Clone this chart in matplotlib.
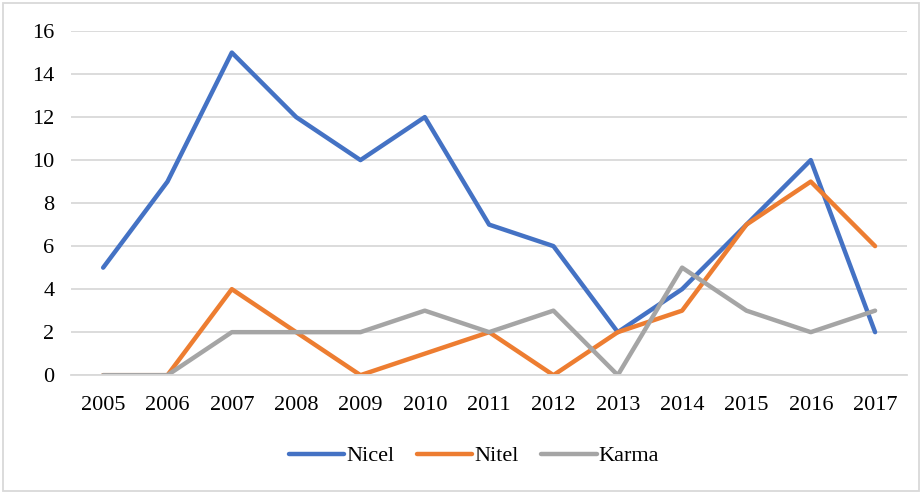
import matplotlib
matplotlib.use("Agg")
import matplotlib.pyplot as plt
from matplotlib.patches import Rectangle

# ---------- DATA ----------
years = ["2005", "2006", "2007", "2008", "2009", "2010", "2011",
         "2012", "2013", "2014", "2015", "2016", "2017"]
nicel = [5, 9, 15, 12, 10, 12, 7, 6, 2, 4, 7, 10, 2]
nitel = [0, 0, 4, 2, 0, 1, 2, 0, 2, 3, 7, 9, 6]
karma = [0, 0, 2, 2, 2, 3, 2, 3, 0, 5, 3, 2, 3]
y_ticks = [0, 2, 4, 6, 8, 10, 12, 14, 16]

plt.rcParams['font.family'] = ['Liberation Serif', 'DejaVu Serif']

fig = plt.figure(figsize=(9.22, 4.93), dpi=100)
ax = fig.add_axes([0.077, 0.239, 0.907, 0.698])

x = range(len(years))
style = dict(lw=3.2, solid_capstyle='round', solid_joinstyle='round')
ax.plot(x, nicel, color='#4472C4', label='Nicel', **style)
ax.plot(x, nitel, color='#ED7D31', label='Nitel', **style)
ax.plot(x, karma, color='#A5A5A5', label='Karma', **style)

ax.set_xlim(-0.5, len(years) - 0.5)
ax.set_ylim(0, 16)
ax.set_xticks(list(x))
ax.set_xticklabels(years)
ax.set_yticks(y_ticks)
ax.tick_params(axis='both', length=0, labelsize=16, colors='#000000')
ax.tick_params(axis='x', pad=15)
ax.tick_params(axis='y', pad=12)

ax.grid(axis='y', color='#D9D9D9', lw=1.3)
ax.set_axisbelow(True)
for s in ['top', 'right', 'left']:
    ax.spines[s].set_visible(False)
ax.spines['bottom'].set_color('#D9D9D9')
ax.spines['bottom'].set_linewidth(1.3)

fig.legend(loc='center', bbox_to_anchor=(0.514, 0.075), ncol=3, frameon=False,
           fontsize=16, handlelength=2.5, handletextpad=0.1, columnspacing=1.0)

# outer chart border
fig.patches.append(Rectangle((0.003, 0.004), 0.994, 0.99, transform=fig.transFigure,
                             fill=False, edgecolor='#D9D9D9', lw=1.3))

fig.savefig("out.png", dpi=100)
